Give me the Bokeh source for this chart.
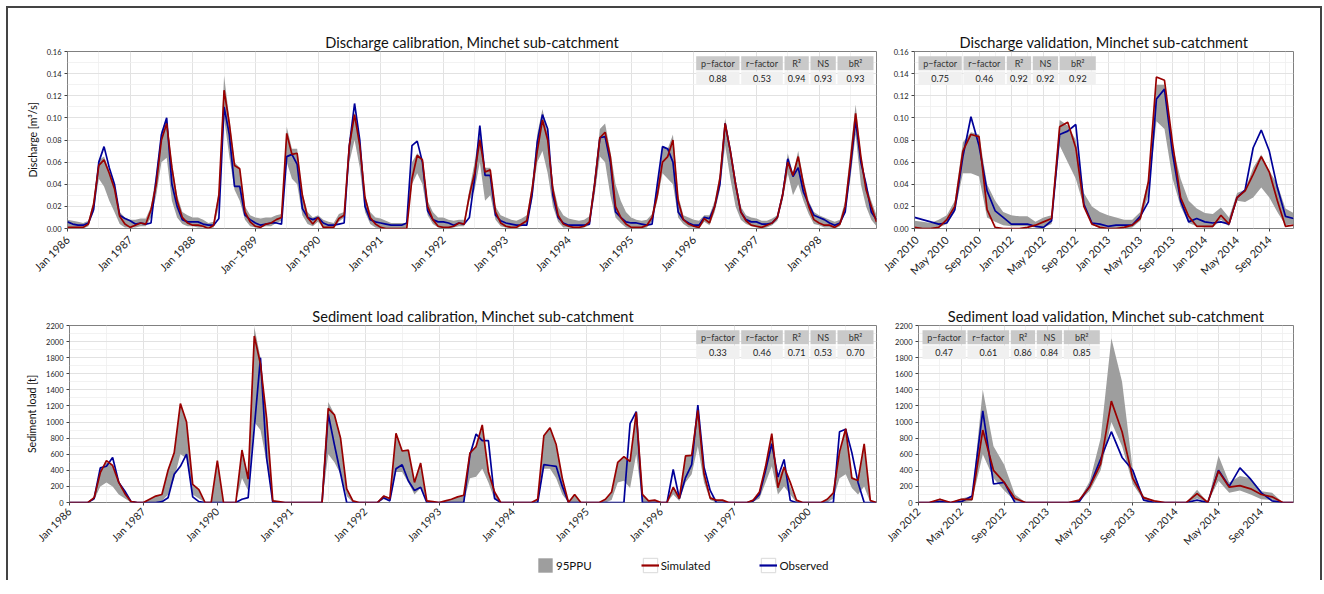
import math
from bokeh.plotting import figure
from bokeh.models import Range1d, FixedTicker, Legend, LegendItem, ColumnDataSource
from bokeh.layouts import column, row
from bokeh.embed import file_html
from bokeh.resources import INLINE
from bokeh.core.properties import value

FONT = "Lato"
SIM_C = "#990000"
OBS_C = "#000099"
BAND_C = "#9e9e9e"

# ---------------- Discharge calibration (monthly, Jan 1986 - Dec 1998) ----------------
q_cal_years = ["Jan 1986", "Jan 1987", "Jan 1988", "Jan\u22121989", "Jan 1990", "Jan 1991", "Jan 1992",
               "Jan 1993", "Jan 1994", "Jan 1995", "Jan 1996", "Jan 1997", "Jan 1998"]
q_cal_obs = [
    .006, .004, .003, .003, .005, .017, .060, .074, .055, .040, .012, .009,
    .007, .004, .005, .004, .005, .045, .085, .100, .040, .020, .008, .006,
    .006, .006, .004, .003, .003, .009, .110, .085, .038, .038, .012, .008,
    .005, .003, .004, .005, .005, .004, .065, .067, .058, .018, .010, .008,
    .010, .005, .003, .003, .004, .005, .075, .113, .080, .020, .008, .006,
    .005, .004, .003, .003, .003, .005, .075, .079, .060, .016, .008, .006,
    .006, .005, .003, .005, .004, .010, .045, .093, .048, .048, .012, .007,
    .005, .004, .003, .003, .003, .030, .078, .103, .090, .030, .010, .005,
    .003, .003, .003, .003, .004, .040, .082, .083, .060, .015, .010, .006,
    .005, .005, .004, .003, .004, .040, .074, .072, .060, .015, .008, .005,
    .003, .003, .010, .009, .020, .040, .095, .070, .040, .015, .008, .006,
    .006, .004, .004, .005, .010, .030, .063, .047, .055, .033, .022, .012,
    .010, .008, .005, .003, .005, .015, .055, .098, .060, .040, .015, .008]
q_cal_sim = [
    .001, .001, .001, .001, .004, .022, .057, .062, .050, .036, .011, .004,
    .001, .003, .005, .004, .017, .040, .080, .095, .055, .025, .010, .005,
    .003, .003, .002, .000, .003, .030, .125, .095, .057, .054, .015, .006,
    .002, .001, .004, .005, .008, .010, .086, .067, .068, .030, .010, .004,
    .010, .001, .001, .001, .009, .012, .075, .103, .075, .028, .010, .004,
    .001, .000, .000, .000, .000, .000, .045, .066, .062, .020, .008, .002,
    .001, .001, .002, .005, .004, .030, .050, .080, .051, .053, .015, .005,
    .002, .001, .001, .004, .007, .035, .070, .098, .080, .035, .012, .004,
    .002, .001, .001, .002, .006, .040, .082, .087, .065, .020, .010, .004,
    .001, .001, .001, .003, .010, .030, .060, .065, .080, .025, .008, .004,
    .002, .001, .009, .005, .020, .045, .095, .070, .040, .015, .007, .003,
    .002, .001, .003, .005, .010, .030, .060, .048, .065, .040, .020, .008,
    .005, .003, .003, .001, .004, .020, .060, .104, .065, .035, .020, .006]
q_cal_lo = [
    .000, .000, .000, .000, .002, .015, .045, .038, .025, .015, .004, .001,
    .001, .001, .002, .002, .010, .030, .060, .064, .025, .010, .004, .002,
    .002, .001, .001, .000, .001, .020, .100, .065, .035, .025, .008, .002,
    .001, .001, .002, .002, .005, .007, .060, .045, .040, .012, .004, .002,
    .006, .001, .000, .000, .006, .010, .060, .080, .055, .015, .004, .001,
    .000, .000, .000, .000, .000, .000, .040, .050, .040, .012, .004, .001,
    .000, .000, .001, .002, .002, .025, .035, .060, .025, .030, .008, .002,
    .001, .000, .000, .002, .004, .025, .060, .070, .050, .020, .006, .001,
    .001, .000, .000, .001, .003, .030, .065, .060, .030, .010, .005, .001,
    .000, .000, .000, .001, .006, .025, .050, .045, .040, .010, .004, .001,
    .001, .000, .006, .003, .015, .035, .075, .045, .020, .008, .004, .002,
    .001, .000, .001, .003, .007, .025, .050, .030, .040, .025, .013, .004,
    .003, .001, .001, .000, .002, .015, .045, .085, .040, .020, .008, .002]
q_cal_hi = [
    .008, .007, .006, .005, .007, .025, .062, .065, .052, .040, .015, .010,
    .008, .008, .009, .009, .020, .050, .088, .100, .060, .030, .015, .012,
    .010, .010, .008, .005, .006, .035, .138, .100, .060, .055, .020, .012,
    .010, .009, .010, .010, .012, .013, .092, .072, .072, .032, .015, .010,
    .012, .008, .006, .005, .013, .015, .080, .105, .080, .030, .015, .010,
    .009, .007, .005, .005, .005, .005, .060, .068, .063, .025, .015, .010,
    .010, .008, .007, .008, .008, .035, .060, .090, .055, .055, .020, .012,
    .010, .008, .007, .009, .012, .040, .085, .108, .085, .040, .020, .012,
    .009, .008, .007, .008, .011, .048, .090, .095, .070, .040, .025, .015,
    .010, .008, .007, .008, .013, .040, .075, .072, .085, .030, .012, .010,
    .008, .007, .012, .012, .025, .050, .100, .072, .045, .020, .012, .010,
    .009, .007, .007, .009, .012, .035, .068, .050, .070, .045, .025, .015,
    .012, .010, .008, .006, .008, .025, .070, .112, .068, .040, .025, .012]
q_cal_stats = ["0.88", "0.53", "0.94", "0.93", "0.93"]

# ---------------- Discharge validation (2010, 2012, 2013, 2014) ----------------
q_val_ticks = ["Jan 2010", "May 2010", "Sep 2010", "Jan 2012", "May 2012", "Sep 2012",
               "Jan 2013", "May 2013", "Sep 2013", "Jan 2014", "May 2014", "Sep 2014"]
q_val_obs = [
    .010, .008, .006, .004, .005, .017, .065, .101, .075, .034, .016, .010,
    .004, .004, .004, .002, .001, .007, .085, .088, .094, .022, .005, .004,
    .002, .003, .003, .003, .011, .024, .117, .126, .068, .025, .006, .009,
    .006, .005, .006, .004, .028, .035, .073, .089, .070, .037, .011, .009]
q_val_sim = [
    .001, .000, .000, .001, .008, .020, .070, .085, .083, .017, .001, .000,
    .000, .000, .001, .003, .006, .009, .092, .096, .073, .020, .004, .001,
    .000, .000, .001, .003, .009, .042, .137, .134, .077, .028, .011, .002,
    .002, .002, .012, .004, .028, .034, .049, .065, .051, .025, .002, .003]
q_val_lo = [
    .000, .000, .000, .001, .004, .015, .050, .050, .047, .010, .006, .003,
    .002, .002, .002, .001, .001, .004, .075, .060, .045, .020, .003, .001,
    .000, .000, .000, .001, .007, .030, .097, .090, .045, .020, .005, .002,
    .001, .001, .008, .002, .025, .024, .028, .037, .028, .015, .003, .004]
q_val_hi = [
    .007, .006, .005, .008, .012, .025, .078, .087, .085, .040, .025, .015,
    .012, .011, .011, .006, .010, .012, .098, .093, .080, .032, .020, .015,
    .012, .010, .008, .008, .015, .045, .130, .130, .075, .045, .025, .018,
    .014, .013, .019, .010, .032, .035, .055, .067, .052, .040, .018, .014]
q_val_stats = ["0.75", "0.46", "0.92", "0.92", "0.92"]

# ---------------- Sediment load calibration ----------------
s_cal_years = ["Jan 1986", "Jan 1987", "Jan 1990", "Jan 1991", "Jan 1992", "Jan 1993",
               "Jan 1994", "Jan 1995", "Jan 1996", "Jan 1997", "Jan 2000"]
s_cal_obs = [
    0, 0, 0, 0, 50, 430, 450, 560, 250, 140, 10, 0,
    0, 0, 0, 10, 60, 350, 450, 600, 70, 10, 0, 0,
    0, 0, 0, 0, 40, 60, 930, 1800, 550, 0, 0, 0,
    0, 0, 0, 0, 0, 0, 1100, 720, 360, 0, 0, 0,
    0, 0, 0, 60, 20, 420, 470, 270, 150, 190, 0, 0,
    0, 0, 0, 0, 0, 590, 850, 770, 770, 50, 0, 0,
    0, 0, 0, 0, 0, 470, 460, 450, 200, 0, 0, 0,
    0, 0, 0, 0, 0, 0, 0, 980, 1130, 0, 0, 0,
    0, 0, 410, 50, 310, 470, 1210, 440, 150, 0, 0, 0,
    0, 0, 0, 20, 100, 400, 730, 315, 535, 25, 0, 0,
    0, 0, 0, 0, 0, 880, 910, 620, 250, 0, 0, 0]
s_cal_sim = [
    0, 0, 0, 0, 60, 370, 520, 460, 250, 110, 10, 0,
    0, 40, 80, 100, 400, 620, 1230, 1000, 225, 160, 0, 0,
    520, 0, 0, 0, 650, 290, 2070, 1720, 1045, 20, 10, 0,
    0, 0, 0, 0, 0, 0, 1170, 1090, 800, 170, 20, 0,
    0, 0, 0, 80, 50, 860, 640, 650, 250, 490, 20, 10,
    0, 20, 40, 70, 90, 615, 695, 965, 380, 130, 0, 0,
    0, 0, 0, 0, 40, 830, 930, 720, 300, 0, 100, 0,
    0, 0, 0, 40, 130, 500, 570, 510, 1120, 100, 20, 30,
    0, 0, 190, 50, 580, 585, 1145, 357, 55, 30, 30, 0,
    0, 0, 0, 30, 130, 450, 855, 183, 440, 250, 30, 0,
    0, 0, 0, 40, 120, 627, 917, 303, 274, 730, 25, 0]
s_cal_lo = [
    0, 0, 0, 0, 30, 200, 250, 200, 100, 50, 0, 0,
    0, 0, 0, 20, 100, 300, 600, 550, 100, 50, 0, 0,
    0, 0, 0, 0, 300, 150, 1000, 900, 500, 0, 0, 0,
    0, 0, 0, 0, 0, 0, 600, 500, 350, 80, 0, 0,
    0, 0, 0, 40, 20, 380, 380, 250, 100, 180, 0, 0,
    0, 0, 0, 0, 0, 300, 320, 420, 250, 40, 0, 0,
    0, 0, 0, 0, 0, 420, 420, 300, 100, 0, 0, 0,
    0, 0, 0, 0, 30, 250, 270, 180, 600, 0, 0, 0,
    0, 0, 100, 20, 250, 350, 700, 250, 30, 0, 0, 0,
    0, 0, 0, 10, 50, 250, 450, 100, 200, 100, 0, 0,
    0, 0, 0, 0, 50, 300, 350, 180, 100, 200, 0, 0]
s_cal_hi = [
    0, 0, 0, 0, 70, 400, 500, 450, 260, 140, 20, 0,
    0, 40, 80, 100, 420, 620, 1230, 1000, 230, 160, 10, 10,
    500, 0, 0, 0, 680, 300, 2180, 1800, 1050, 30, 10, 0,
    0, 0, 0, 0, 0, 0, 1250, 1100, 820, 180, 20, 0,
    0, 0, 0, 90, 60, 870, 650, 640, 260, 500, 30, 10,
    0, 20, 40, 70, 90, 620, 700, 960, 420, 140, 0, 0,
    0, 0, 0, 0, 40, 840, 930, 700, 300, 0, 100, 0,
    0, 0, 0, 40, 120, 500, 560, 520, 1130, 100, 20, 30,
    0, 0, 200, 80, 580, 600, 1100, 360, 80, 30, 30, 0,
    0, 0, 0, 40, 120, 450, 850, 300, 450, 200, 30, 0,
    0, 0, 0, 40, 120, 600, 920, 320, 270, 720, 30, 0]
s_cal_stats = ["0.33", "0.46", "0.71", "0.53", "0.70"]

# ---------------- Sediment load validation (2012-2014) ----------------
s_val_ticks = ["Jan 2012", "May 2012", "Sep 2012", "Jan 2013", "May 2013", "Sep 2013",
               "Jan 2014", "May 2014", "Sep 2014"]
s_val_obs = [0, 0, 10, 0, 10, 80, 1140, 230, 250, 0, 0, 0,
             0, 0, 0, 10, 210, 540, 880, 560, 400, 30, 0, 0,
             0, 0, 30, 0, 400, 200, 430, 290, 120, 20, 0, 0]
s_val_sim = [0, 0, 40, 0, 40, 40, 900, 400, 250, 50, 0, 0,
             0, 0, 0, 30, 200, 480, 1260, 880, 300, 60, 20, 0,
             0, 0, 110, 0, 390, 190, 210, 170, 100, 70, 0, 0]
s_val_lo = [0, 0, 0, 0, 0, 20, 600, 300, 150, 20, 0, 0,
            0, 0, 0, 10, 150, 400, 1000, 700, 230, 30, 0, 0,
            0, 0, 50, 0, 270, 120, 150, 100, 40, 30, 0, 0]
s_val_hi = [0, 0, 50, 0, 50, 80, 1400, 700, 470, 100, 0, 0,
            0, 0, 0, 30, 270, 800, 2040, 1500, 400, 80, 20, 0,
            0, 0, 160, 0, 580, 250, 330, 300, 140, 120, 0, 0]
s_val_stats = ["0.47", "0.61", "0.86", "0.84", "0.85"]

stat_headers = ["p\u2212factor", "r\u2212factor", "R\u00b2", "NS", "bR\u00b2"]
q_ticks_y = [0, 0.02, 0.04, 0.06, 0.08, 0.10, 0.12, 0.14, 0.16]
s_ticks_y = [0, 200, 400, 600, 800, 1000, 1200, 1400, 1600, 1800, 2000, 2200]
legend_labels = ["95PPU", "Simulated", "Observed"]

COL_W = [43.3, 41.6, 24.3, 25.3, 36.0]
GAP = 1.7


def panel(title, obs, sim, lo, hi, tick_step, tick_labels, y_end, y_ticks, y_fmt, ylabel,
          W, H, bl, br, bt, bb, title_offset, stats, table_left, xfs, xso):
    n = len(obs)
    x = list(range(n))
    p = figure(width=W, height=H, x_range=Range1d(0, n - 1), y_range=Range1d(0, y_end),
               output_backend="svg", toolbar_location=None,
               min_border_left=bl, min_border_right=br, min_border_top=bt, min_border_bottom=bb)
    p.background_fill_color = "white"
    p.outline_line_color = "#808080"
    p.outline_line_width = 1

    major_x = [i * tick_step for i in range(len(tick_labels))]
    minor_x = [m + tick_step / 2 for m in major_x]
    dy = y_ticks[1] - y_ticks[0]
    minor_y = [t + dy / 2 for t in y_ticks[:-1]]

    p.xaxis.ticker = FixedTicker(ticks=major_x, minor_ticks=minor_x)
    p.xgrid.ticker = FixedTicker(ticks=major_x, minor_ticks=minor_x)
    p.xaxis.major_label_overrides = {t: lab for t, lab in zip(major_x, tick_labels)}
    p.yaxis.ticker = FixedTicker(ticks=y_ticks, minor_ticks=minor_y)
    p.ygrid.ticker = FixedTicker(ticks=y_ticks, minor_ticks=minor_y)
    p.yaxis.major_label_overrides = {t: y_fmt(t) for t in y_ticks}

    for g in (p.xgrid, p.ygrid):
        g.grid_line_color = "#e2e2e2"
        g.grid_line_width = 1
        g.minor_grid_line_color = "#efefef"
        g.minor_grid_line_width = 0.8

    for ax in (p.xaxis, p.yaxis):
        ax.axis_line_color = None
        ax.minor_tick_line_color = None
        ax.major_tick_line_color = "#444444"
        ax.major_tick_out = 3
        ax.major_tick_in = 0
        ax.major_label_text_font = FONT
        ax.major_label_text_color = "#222222"
    p.xaxis.major_label_orientation = math.pi / 4
    p.xaxis.major_label_text_font_size = xfs
    p.xaxis.major_label_standoff = xso
    p.yaxis.major_label_text_font_size = "7.5px"
    p.yaxis.major_label_standoff = 2
    if ylabel:
        p.yaxis.axis_label = ylabel
        p.yaxis.axis_label_text_font = FONT
        p.yaxis.axis_label_text_font_size = "10.5px"
        p.yaxis.axis_label_text_font_style = "normal"
        p.yaxis.axis_label_standoff = 5
        p.yaxis.axis_label_text_color = "#111111"

    p.title.text = title
    p.title.align = "center"
    p.title.offset = title_offset
    p.title.text_font = FONT
    p.title.text_font_size = "14.6px"
    p.title.text_font_style = "normal"
    p.title.text_color = "#111111"
    p.title.standoff = 2

    src = ColumnDataSource(dict(x=x, obs=obs, sim=sim, lo=lo, hi=hi))
    p.varea(x="x", y1="lo", y2="hi", source=src, fill_color=BAND_C, fill_alpha=1)
    p.line("x", "obs", source=src, line_color=OBS_C, line_width=1.7)
    p.line("x", "sim", source=src, line_color=SIM_C, line_width=1.7)

    # statistics table (placed in pixel offsets of the frame)
    fw = W - bl - br
    fh = H - bt - bb
    sx = (n - 1) / fw
    sy = y_end / fh
    total = sum(COL_W) + GAP * (len(COL_W) - 1)
    start = 4.0 if table_left else fw - 3.0 - total
    lefts, rights = [], []
    cur = start
    for w in COL_W:
        lefts.append(cur)
        rights.append(cur + w)
        cur += w + GAP
    h_top, h_bot, v_top, v_bot = 4.7, 18.7, 19.9, 33.6
    L = [a * sx for a in lefts]
    R = [b * sx for b in rights]
    p.quad(left=L, right=R, top=[y_end - h_top * sy] * 5, bottom=[y_end - h_bot * sy] * 5,
           fill_color="#c9c9c9", line_color=None)
    p.quad(left=L, right=R, top=[y_end - v_top * sy] * 5, bottom=[y_end - v_bot * sy] * 5,
           fill_color="#f0f0f0", line_color=None)
    cx = [(a + b) / 2 for a, b in zip(L, R)]
    p.text(x=cx, y=[y_end - (h_top + h_bot) / 2 * sy] * 5, text=stat_headers,
           text_font=value(FONT), text_font_size="9px", text_color="#333333",
           text_align="center", text_baseline="middle")
    p.text(x=cx, y=[y_end - (v_top + v_bot) / 2 * sy] * 5, text=stats,
           text_font=value(FONT), text_font_size="9px", text_color="#222222",
           text_align="center", text_baseline="middle")
    return p


fmt_q = lambda t: "%.2f" % t
fmt_s = lambda t: "%d" % t

tl = panel("Discharge calibration, Minchet sub-catchment", q_cal_obs, q_cal_sim, q_cal_lo, q_cal_hi,
           12, q_cal_years, 0.16, q_ticks_y, fmt_q, "Discharge [m\u00b3/s]",
           872, 287, 59, 4, 43, 67, -2, q_cal_stats, False, "11px", 5)
tr = panel("Discharge validation, Minchet sub-catchment", q_val_obs, q_val_sim, q_val_lo, q_val_hi,
           4, q_val_ticks, 0.16, q_ticks_y, fmt_q, None,
           440, 287, 34, 27, 43, 67, 19, q_val_stats, True, "11px", 5)
bl_ = panel("Sediment load calibration, Minchet sub-catchment", s_cal_obs, s_cal_sim, s_cal_lo, s_cal_hi,
            12, s_cal_years, 2200, s_ticks_y, fmt_s, "Sediment load [t]",
            872, 260, 61, 4, 30, 53, 10, s_cal_stats, False, "10.5px", 3)
br_ = panel("Sediment load validation, Minchet sub-catchment", s_val_obs, s_val_sim, s_val_lo, s_val_hi,
            4, s_val_ticks, 2200, s_ticks_y, fmt_s, None,
            440, 260, 38, 27, 30, 53, 12, s_val_stats, True, "10.5px", 3)

# legend strip (legend glyph renderers hold one point placed outside the visible range)
lg = figure(width=1312, height=25, x_range=Range1d(0, 1), y_range=Range1d(0, 1),
            output_backend="svg", toolbar_location=None,
            min_border_left=0, min_border_right=0, min_border_top=0, min_border_bottom=0)
lg.axis.visible = False
lg.grid.visible = False
lg.outline_line_color = None
r_band = lg.varea(x=[5, 6], y1=[5, 5], y2=[6, 6], fill_color=BAND_C)
r_box1 = lg.quad(left=[5], right=[6], top=[6], bottom=[5], fill_color="white", line_color="#d9d9d9")
r_box2 = lg.quad(left=[5], right=[6], top=[6], bottom=[5], fill_color="white", line_color="#d9d9d9")
r_sim = lg.line(x=[5, 6], y=[5, 5], line_color=SIM_C, line_width=2.2)
r_obs = lg.line(x=[5, 6], y=[5, 5], line_color=OBS_C, line_width=2.2)
legend = Legend(items=[LegendItem(label=legend_labels[0], renderers=[r_band]),
                       LegendItem(label=legend_labels[1], renderers=[r_box1, r_sim]),
                       LegendItem(label=legend_labels[2], renderers=[r_box2, r_obs])],
                orientation="horizontal", location=(528, 6), spacing=49,
                glyph_width=18, glyph_height=18, label_standoff=2, padding=0, margin=0,
                border_line_color=None, background_fill_alpha=0,
                label_text_font=FONT, label_text_font_size="11.5px", label_text_color="#111111")
lg.add_layout(legend)

layout = column(row(tl, tr), row(bl_, br_), lg,
                styles={"margin-left": "6px", "margin-top": "6px",
                        "border-top": "2px solid #444", "border-left": "2px solid #444",
                        "border-right": "2px solid #444"})

open("out.html", "w").write(file_html(layout, INLINE))
